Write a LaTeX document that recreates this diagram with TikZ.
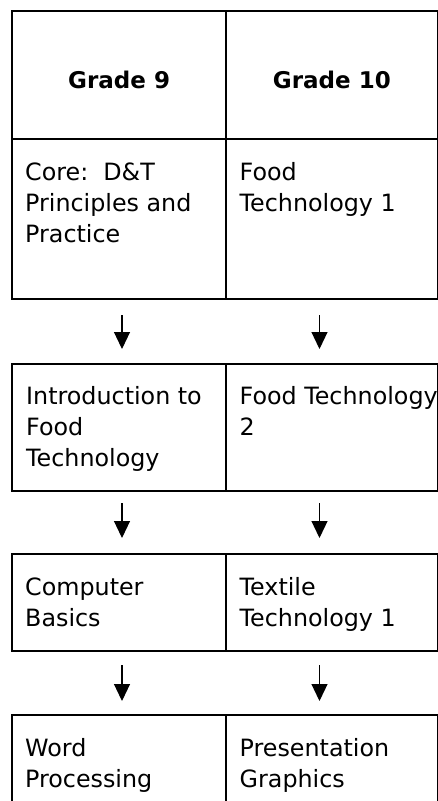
\documentclass[tikz,border=0pt]{standalone}
\usepackage{fontspec}
\setmainfont{DejaVu Sans}
\usetikzlibrary{arrows.meta}

\begin{document}
\begin{tikzpicture}[x=1pt,y=-1pt,
  cell/.style={draw,line width=2.2pt,inner sep=0pt,anchor=north west},
  txt/.style={align=left,inner sep=0pt,anchor=north west,font=\fontsize{23.8}{31}\selectfont},
  head/.style={inner sep=0pt,anchor=base,font=\fontsize{23}{31}\selectfont\bfseries},
  arr/.style={line width=1.2pt,-{Triangle[width=16pt,length=17pt]}}]
\useasboundingbox (0,0) rectangle (438,801);
\clip (0,0) rectangle (438,801);
\foreach \n/\y/\h in {g/10/128, c/138/160, i/363/127, b/553/96.5, w/714/101}{
	\node[cell,minimum width=214pt,minimum height=\h pt] (\n l) at (11,\y) {};
	\node[cell,minimum width=211.5pt,minimum height=\h pt] (\n r) at (225,\y) {};
	}
\node[head] (g9) at ([yshift=-13pt]gl.center) {Grade 9};
\node[head] (g10) at ([yshift=-13pt]gr.center) {Grade 10};
\node[txt] (core) at ([xshift=14pt,yshift=-20.3pt]cl.north west) {\strut Core:~~D\&T\\Principles and\\Practice};
\node[txt] (food1) at ([xshift=14.5pt,yshift=-20.3pt]cr.north west) {\strut Food\\Technology 1};
\node[txt] (intro) at ([xshift=15pt,yshift=-19.3pt]il.north west) {\strut Introduction to\\Food\\Technology};
\node[txt] (food2) at ([xshift=14.5pt,yshift=-19.3pt]ir.north west) {\strut Food Technology\\2};
\node[txt] (comp) at ([xshift=14pt,yshift=-20.3pt]bl.north west) {\strut Computer\\Basics};
\node[txt] (tex1) at ([xshift=14.5pt,yshift=-20.3pt]br.north west) {\strut Textile\\Technology 1};
\node[txt] (word) at ([xshift=14pt,yshift=-20.3pt]wl.north west) {\strut Word\\Processing};
\node[txt] (pres) at ([xshift=14.5pt,yshift=-20.3pt]wr.north west) {\strut Presentation\\Graphics};
\foreach \k/\ya/\yb in {1/315/349, 2/503/538, 3/665/701}{
	\coordinate (s\k l) at (122,\ya);
	\coordinate (e\k l) at (122,\yb);
	\coordinate (s\k r) at (319.5,\ya);
	\coordinate (e\k r) at (319.5,\yb);
	\draw[arr] (s\k l) -- (e\k l);
	\draw[arr] (s\k r) -- (e\k r);
	}
\end{tikzpicture}
\end{document}
